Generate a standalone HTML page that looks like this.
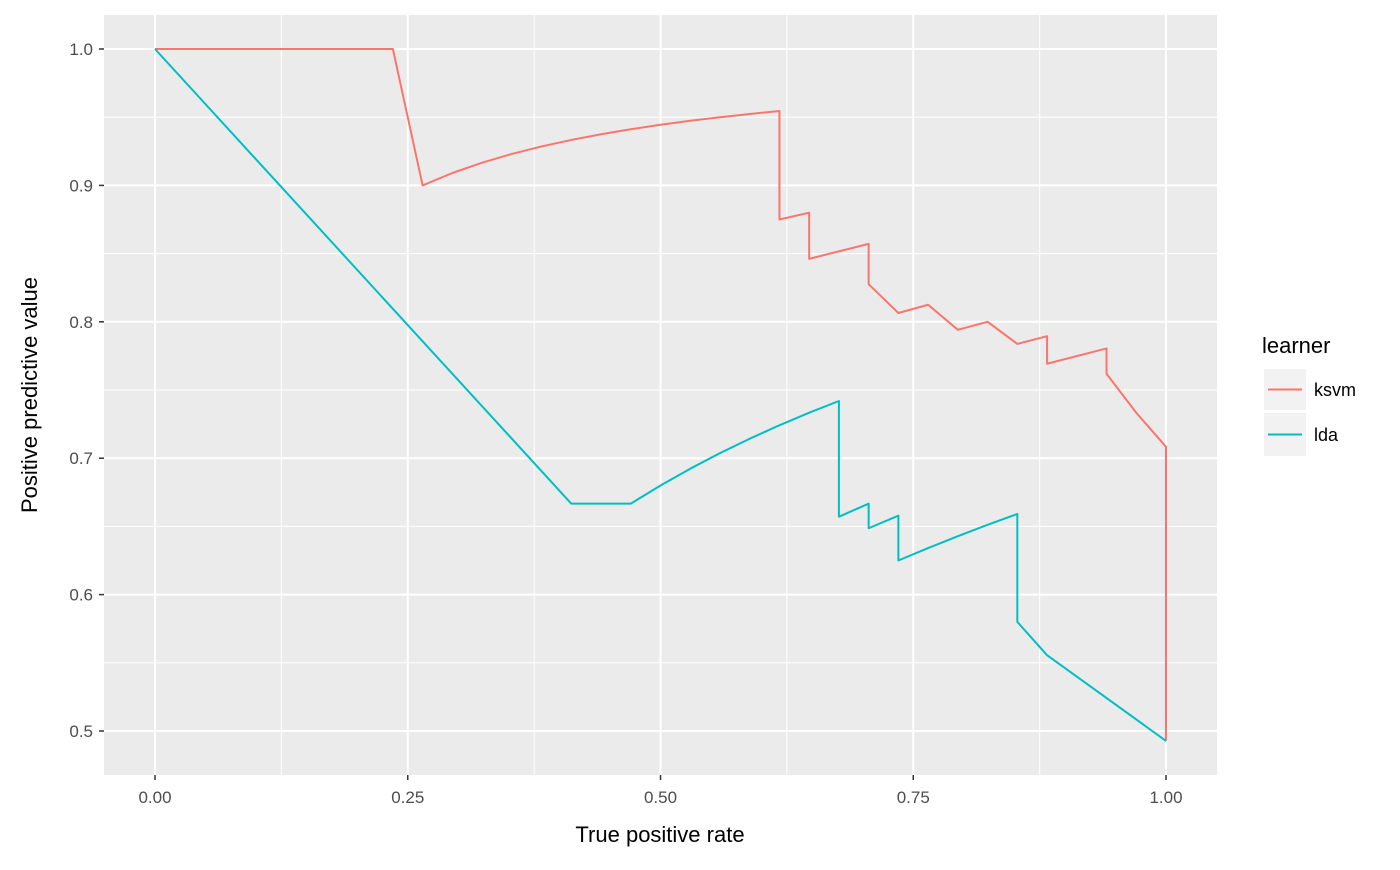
<!DOCTYPE html>
<html><head><meta charset="utf-8"><style>
body{margin:0;background:#fff;font-family:"Liberation Sans",sans-serif}
svg text{font-family:"Liberation Sans",sans-serif}
</style></head><body>
<svg id="chart" width="1400" height="865">
<rect x="104" y="15" width="1113" height="760" fill="#ebebeb"/>
<g id="grid"></g><g id="series"></g><g id="axes"></g>
<text x="660" y="842" font-size="22" text-anchor="middle" fill="#000">True positive rate</text>
<text transform="translate(37,395) rotate(-90)" font-size="22" text-anchor="middle" fill="#000">Positive predictive value</text>
<g>
<text x="1262" y="353" font-size="22" fill="#000">learner</text>
<rect x="1264" y="369" width="42" height="41" fill="#f2f2f2"/>
<line x1="1268" y1="389.5" x2="1302" y2="389.5" stroke="#F8766D" stroke-width="2"/>
<text x="1314" y="396" font-size="18" fill="#000">ksvm</text>
<rect x="1264" y="413" width="42" height="43" fill="#f2f2f2"/>
<line x1="1268" y1="434.5" x2="1302" y2="434.5" stroke="#00BFC4" stroke-width="2"/>
<text x="1314" y="441" font-size="18" fill="#000">lda</text>
</g>
</svg>
<script>
const xTicks=[0,0.25,0.5,0.75,1];
const xTickLabels=["0.00","0.25","0.50","0.75","1.00"];
const yTicks=[0.5,0.6,0.7,0.8,0.9,1.0];
const yTickLabels=["0.5","0.6","0.7","0.8","0.9","1.0"];
const ksvmTP=[0,8,9,10,11,12,13,14,15,16,17,18,19,20,21,21,22,22,24,24,25,26,27,28,29,30,30,32,32,33,34,34];
const ksvmPred=[0,8,10,11,12,13,14,15,16,17,18,19,20,21,22,24,25,26,28,29,31,32,34,35,37,38,39,41,42,45,48,69];
const ldaTP=[0,14,16,17,18,19,20,21,22,23,23,24,24,25,25,26,27,28,29,29,30,34];
const ldaPred=[0,21,24,25,26,27,28,29,30,31,35,36,37,38,40,41,42,43,44,50,54,69];
const totalPos=34;
const NS="http://www.w3.org/2000/svg";
const X=v=>155+v*1011, Y=v=>49+(1-v)*1364;
function mk(tag,at,parent){const e=document.createElementNS(NS,tag);for(const k in at)e.setAttribute(k,at[k]);parent.appendChild(e);return e;}
const grid=document.getElementById('grid'),axes=document.getElementById('axes'),series=document.getElementById('series');
for(let i=0;i<xTicks.length-1;i++){const m=(xTicks[i]+xTicks[i+1])/2;
 const l=mk('line',{x1:X(m),x2:X(m),y1:15,y2:775,stroke:'#fff','stroke-width':1},grid);
 
 }
for(let i=0;i<yTicks.length-1;i++){const m=(yTicks[i]+yTicks[i+1])/2;
 const l=mk('line',{x1:104,x2:1217,y1:Y(m),y2:Y(m),stroke:'#fff','stroke-width':1},grid);
 
 }
xTicks.forEach((v,i)=>{
 const l=mk('line',{x1:X(v),x2:X(v),y1:15,y2:775,stroke:'#fff','stroke-width':2},grid);
 
 
 mk('line',{x1:X(v),x2:X(v),y1:775,y2:780,stroke:'#333','stroke-width':1.5},axes);
 const t=mk('text',{x:X(v),y:803,'font-size':17,'text-anchor':'middle',fill:'#4d4d4d'},axes);t.textContent=xTickLabels[i];
 
 });
yTicks.forEach((v,i)=>{
 const l=mk('line',{x1:104,x2:1217,y1:Y(v),y2:Y(v),stroke:'#fff','stroke-width':2},grid);
 
 
 mk('line',{x1:99,x2:104,y1:Y(v),y2:Y(v),stroke:'#333','stroke-width':1.5},axes);
 const t=mk('text',{x:93,y:Y(v)+6,'font-size':17,'text-anchor':'end',fill:'#4d4d4d'},axes);t.textContent=yTickLabels[i];
 
 });
function line(tp,pred,color,name){
 const pts=tp.map((t,i)=>{const r=t/totalPos, p=pred[i]===0?1:t/pred[i];return X(r)+','+Y(p);}).join(' ');
 const pl=mk('polyline',{points:pts,fill:'none',stroke:color,'stroke-width':2,'stroke-linejoin':'round'},series);
 
 }
line(ksvmTP,ksvmPred,'#F8766D','ksvm-line');
line(ldaTP,ldaPred,'#00BFC4','lda-line');
</script>
</body></html>
